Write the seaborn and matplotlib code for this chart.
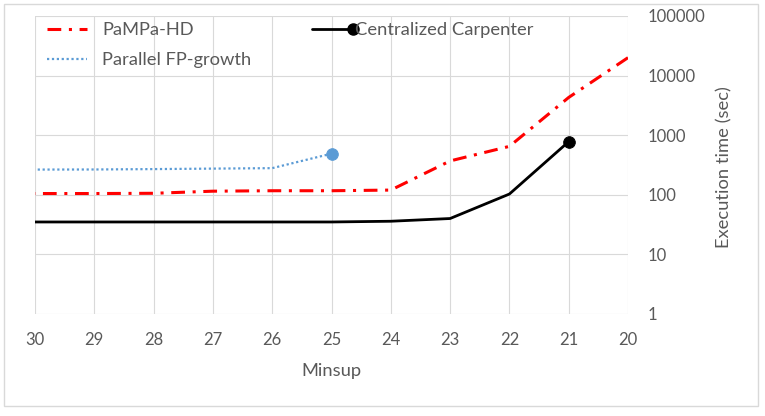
import numpy as np
import pandas as pd
import matplotlib
matplotlib.use("Agg")
import matplotlib.pyplot as plt
import seaborn as sns
from matplotlib.legend_handler import HandlerLine2D
from matplotlib.patches import Rectangle
from matplotlib.lines import Line2D

# ---- data ----
minsup = [30, 29, 28, 27, 26, 25, 24, 23, 22, 21, 20]
pampa_hd = [105, 105, 106, 115, 117, 117, 120, 370, 650, 4300, 20000]
fp_minsup = [30, 29, 28, 27, 26, 25]
parallel_fp = [265, 266, 270, 275, 280, 490]
carp_minsup = [30, 29, 28, 27, 26, 25, 24, 23, 22, 21]
carpenter = [35, 35, 35, 35, 35, 35, 36, 40, 103, 780]
x_ticks = [30, 29, 28, 27, 26, 25, 24, 23, 22, 21, 20]
y_ticks = [1, 10, 100, 1000, 10000, 100000]
y_tick_labels = ["1", "10", "100", "1000", "10000", "100000"]

sns.set_theme(style="white")
plt.rcParams['font.family'] = ['Lato', 'DejaVu Sans']
TXT = "#595959"
GRID = "#D9D9D9"
FS_T = 12
FS_L = 13.2

fig = plt.figure(figsize=(7.65, 4.16), dpi=100)
W, H = 765, 416
ax = fig.add_axes([35 / W, 1 - 314 / H, 593 / W, 298 / H])

df_p = pd.DataFrame({"x": minsup, "y": pampa_hd})
df_f = pd.DataFrame({"x": fp_minsup, "y": parallel_fp})
df_c = pd.DataFrame({"x": carp_minsup, "y": carpenter})

sns.lineplot(data=df_p, x="x", y="y", ax=ax, color="#FF0000", lw=2.2,
             linestyle=(0, (4.5, 2.5, 1, 2.5)), label="PaMPa-HD", zorder=3)
sns.lineplot(data=df_f, x="x", y="y", ax=ax, color="#5B9BD5", lw=1.6,
             linestyle=(0, (1, 1.2)), label="Parallel FP-growth", zorder=3)
sns.lineplot(data=df_c, x="x", y="y", ax=ax, color="black", lw=2,
             label="Centralized Carpenter", zorder=3)
# end markers
sns.scatterplot(x=df_f["x"].iloc[-1:], y=df_f["y"].iloc[-1:], ax=ax,
                color="#5B9BD5", s=70, edgecolor="#5B9BD5", zorder=4, legend=False)
sns.scatterplot(x=df_c["x"].iloc[-1:], y=df_c["y"].iloc[-1:], ax=ax,
                color="black", s=70, edgecolor="black", zorder=4, legend=False)

ax.set_yscale("log")
ax.set_ylim(1, 100000)
ax.set_xlim(30, 20)
ax.set_xticks(x_ticks)
ax.set_xticklabels([str(v) for v in x_ticks])
ax.set_yticks(y_ticks)
ax.set_yticklabels(y_tick_labels)
ax.yaxis.set_minor_locator(matplotlib.ticker.NullLocator())
ax.yaxis.tick_right()
ax.yaxis.set_label_position("right")
ax.grid(True, color=GRID, lw=0.8)
ax.set_axisbelow(True)
for s in ax.spines.values():
    s.set_visible(False)
ax.tick_params(axis="x", length=0, pad=13, labelsize=FS_T, labelcolor=TXT)
ax.tick_params(axis="y", length=0, pad=14, labelsize=FS_T, labelcolor=TXT)
for lab in ax.get_yticklabels():
    lab.set_horizontalalignment("left")

ax.set_xlabel("Minsup", fontsize=FS_L, color=TXT)
ax.xaxis.set_label_coords(0.5, -(363 - 314) / 298)
ax.set_ylabel("Execution time (sec)", fontsize=FS_L, color=TXT, rotation=90,
              va="center", ha="center")
ax.yaxis.set_label_coords((724 - 35) / 593, (314 - 167) / 298)


class EndMarkerHandler(HandlerLine2D):
    def __init__(self, shift=0, **kw):
        super().__init__(**kw)
        self.shift = shift

    def create_artists(self, legend, orig_handle, xdescent, ydescent, width,
                       height, fontsize, trans):
        arts = super().create_artists(legend, orig_handle, xdescent, ydescent,
                                      width, height, fontsize, trans)
        for a in arts:
            a.set_xdata(np.asarray(a.get_xdata()) + self.shift)
            if a.get_marker() not in (None, "None", "", " "):
                a.set_markevery([2])
        return arts


handles, labels = ax.get_legend_handles_labels()
hmap = {}
new_handles = []
for h, l in zip(handles, labels):
    if l == "Centralized Carpenter":
        h2 = Line2D([0], [0], color="black", lw=2, marker="o", markersize=8)
        hmap[h2] = EndMarkerHandler(shift=9.0, numpoints=1)
        new_handles.append(h2)
    else:
        new_handles.append(h)
ax.legend(new_handles, labels, handler_map=hmap, ncol=2, frameon=False,
          loc="upper left", bbox_to_anchor=(47 / W, 1 - 22 / H),
          bbox_transform=fig.transFigure, borderpad=0, borderaxespad=0,
          handlelength=2.2, handletextpad=0.8, columnspacing=2.65,
          labelspacing=0.78, prop={"size": FS_L})
for t in ax.get_legend().get_texts():
    t.set_color(TXT)

fig.patches.append(Rectangle((4 / W, 1 - 406 / H), 754 / W, 402 / H,
                             transform=fig.transFigure, fill=False,
                             edgecolor=GRID, lw=1))

fig.savefig("out.png", dpi=100)
